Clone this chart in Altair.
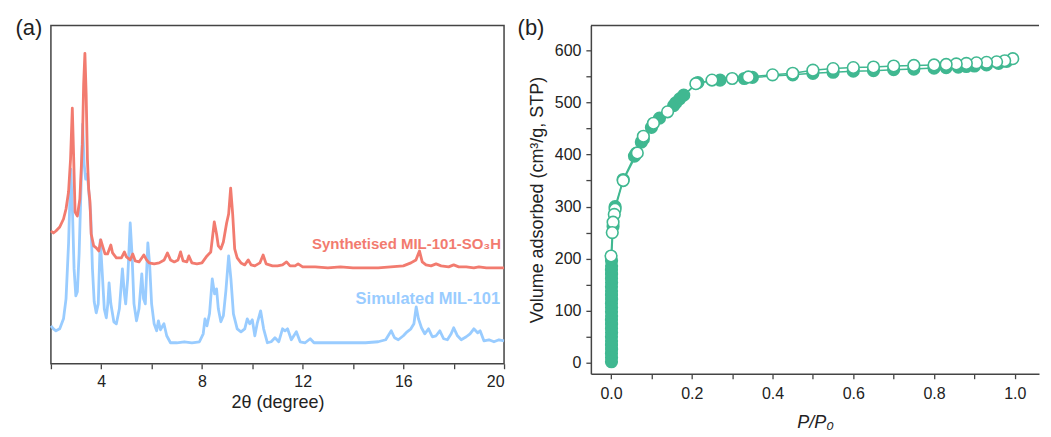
import altair as alt
import pandas as pd

# ---------------- Panel (a): XRD patterns ----------------
syn_2theta = [2.0, 2.1, 2.2, 2.35, 2.5, 2.6, 2.7, 2.78, 2.85, 2.9, 2.96, 3.05, 3.15, 3.25, 3.3, 3.35, 3.4, 3.45, 3.5, 3.55,
              3.6, 3.7, 3.8, 3.9, 3.98, 4.05, 4.15, 4.25, 4.38, 4.45, 4.6, 4.8, 4.92, 5.0, 5.15, 5.25, 5.35, 5.5, 5.69, 5.8,
              5.9, 6.1, 6.3, 6.5, 6.63, 6.75, 6.9, 7.05, 7.15, 7.25, 7.4, 7.48, 7.6, 7.8, 8.0, 8.2, 8.35, 8.49, 8.58, 8.65,
              8.75, 8.85, 8.98, 9.06, 9.14, 9.22, 9.3, 9.4, 9.55, 9.7, 9.84, 9.95, 10.1, 10.3, 10.43, 10.55, 10.8, 11.0, 11.2, 11.36,
              11.5, 11.7, 11.82, 12.0, 12.5, 13.0, 13.5, 14.0, 14.5, 15.0, 15.5, 16.0, 16.3, 16.5, 16.64, 16.75, 16.9, 17.1, 17.3, 17.5,
              17.8, 18.0, 18.2, 18.5, 18.8, 19.0, 19.3, 19.6, 20.0]
syn_intensity = [133, 131, 133, 137, 145, 155, 172, 205, 256, 210, 152, 148, 165, 220, 280, 311, 270, 205, 175, 163,
                 130, 118, 116, 113, 124, 118, 110, 110, 119, 111, 106, 106, 112, 107, 104, 110, 103, 102, 109, 104,
                 101, 100, 101, 104, 111, 104, 102, 104, 112, 103, 102, 108, 101, 100, 101, 108, 112, 142, 130, 118,
                 115, 122, 141, 150, 176, 150, 115, 106, 101, 99, 104, 99, 98, 101, 109, 100, 98, 98, 99, 102,
                 98, 98, 100, 97, 97, 96, 97, 96, 96, 96, 97, 98, 101, 104, 113, 102, 99, 98, 100, 98,
                 97, 99, 97, 97, 96, 97, 96, 96, 96]

sim_2theta = [2.0, 2.1, 2.2, 2.35, 2.5, 2.6, 2.7, 2.79, 2.86, 2.92, 2.99, 3.05, 3.12, 3.2, 3.26, 3.32, 3.38, 3.45, 3.52, 3.58,
              3.65, 3.72, 3.8, 3.88, 3.96, 4.03, 4.12, 4.2, 4.26, 4.31, 4.38, 4.5, 4.6, 4.72, 4.84, 4.92, 4.97, 5.05, 5.15, 5.22,
              5.3, 5.4, 5.5, 5.61, 5.68, 5.75, 5.85, 5.92, 6.0, 6.1, 6.2, 6.27, 6.35, 6.49, 6.6, 6.75, 7.0, 7.3, 7.6, 7.9,
              8.05, 8.12, 8.2, 8.3, 8.41, 8.5, 8.58, 8.65, 8.75, 8.85, 8.95, 9.06, 9.15, 9.25, 9.4, 9.55, 9.7, 9.8, 9.9, 10.0,
              10.1, 10.2, 10.33, 10.45, 10.6, 10.75, 10.9, 11.05, 11.2, 11.3, 11.4, 11.55, 11.75, 11.9, 12.1, 12.3, 12.45, 13.0, 13.5, 14.0,
              14.5, 15.0, 15.3, 15.52, 15.65, 15.8, 16.0, 16.15, 16.3, 16.42, 16.51, 16.6, 16.72, 16.85, 17.0, 17.15, 17.3, 17.45, 17.6, 17.75,
              17.9, 18.0, 18.15, 18.3, 18.5, 18.65, 18.8, 18.95, 19.05, 19.2, 19.4, 19.6, 19.8, 20.0]
sim_intensity = [38, 35, 33, 35, 45, 65, 120, 195, 150, 95, 68, 72, 110, 180, 240, 200, 185, 190, 168, 150,
                 95, 62, 51, 60, 124, 95, 55, 46, 60, 81, 60, 42, 40, 55, 95, 70, 60, 85, 141, 110,
                 60, 43, 55, 90, 65, 60, 121, 100, 60, 40, 33, 43, 34, 40, 28, 21, 21, 22, 21, 22,
                 30, 45, 38, 50, 85, 70, 75, 55, 42, 48, 73, 108, 85, 50, 35, 32, 35, 45, 40, 44,
                 28, 41, 53, 35, 21, 22, 26, 22, 35, 33, 35, 24, 32, 22, 21, 25, 21, 21, 21, 21,
                 21, 22, 24, 33, 26, 24, 28, 32, 35, 40, 57, 45, 36, 30, 35, 27, 28, 33, 25, 24,
                 30, 36, 28, 24, 27, 30, 35, 31, 33, 23, 24, 22, 24, 23]

label_syn = "Synthetised MIL-101-SO₃H"
label_sim = "Simulated MIL-101"
xrd_ticks = [2, 4, 6, 8, 10, 12, 14, 16, 18, 20]

# ---------------- Panel (b): N2 isotherm ----------------
ads_p = [0.0010, 0.0012, 0.0010, 0.0013, 0.0011, 0.0012, 0.0010, 0.0013, 0.0011, 0.0012, 0.0010, 0.0013, 0.0011, 0.0012,
         0.0010, 0.0013, 0.0011, 0.0012, 0.0010, 0.0013, 0.0011, 0.0012, 0.0010, 0.0013, 0.0012,
         0.005, 0.010, 0.030, 0.058, 0.062, 0.075, 0.080, 0.100, 0.120, 0.155, 0.160, 0.170, 0.180, 0.215,
         0.270, 0.330, 0.350, 0.450, 0.500, 0.550, 0.600, 0.650, 0.700, 0.750, 0.800, 0.830, 0.860, 0.880,
         0.900, 0.930, 0.960, 0.980]
ads_v = [2, 10, 18, 26, 34, 42, 50, 58, 66, 74, 82, 90, 98, 106,
         114, 122, 130, 138, 146, 154, 162, 170, 178, 186, 196,
         262, 300, 352, 397, 402, 424, 430, 452, 470, 494, 499, 507, 514, 538,
         543, 546, 548, 553, 556, 558, 560, 561, 563, 564, 566, 567, 568, 569,
         570, 572, 575, 579]
des_p = [0.995, 0.975, 0.955, 0.930, 0.905, 0.880, 0.855, 0.830, 0.800, 0.750, 0.700, 0.650, 0.600, 0.550,
         0.500, 0.450, 0.400, 0.340, 0.300, 0.250, 0.210, 0.140, 0.105, 0.080, 0.065, 0.030, 0.010,
         0.008, 0.005, 0.003, 0.000]
des_v = [584, 580, 578, 577, 576, 575, 574, 573, 572, 571, 570, 568, 567, 565,
         562, 556, 553, 549, 546, 543, 536, 482, 460, 435, 403, 350, 295,
         285, 270, 250, 205]

FONT = "Liberation Sans"
RED = "#F27B6F"
BLUE = "#99CCFF"
GREEN = "#40B891"
AX = "#444444"
TXT = "#222222"

# ---------- panel (a) ----------
df_syn = pd.DataFrame({"t": syn_2theta, "i": syn_intensity})
df_sim = pd.DataFrame({"t": sim_2theta, "i": sim_intensity})

xa = alt.X("t:Q", scale=alt.Scale(domain=[2, 20], nice=False, zero=False),
           axis=alt.Axis(values=xrd_ticks, labelExpr="datum.value % 4 == 0 ? datum.label : ''",
                         title="2θ (degree)", domain=False, tickSize=5, tickColor=AX, tickWidth=1.3,
                         labelFontSize=16, labelPadding=5, titleFontSize=18, titlePadding=4,
                         titleFontWeight="normal", grid=False))
ya = alt.Y("i:Q", scale=alt.Scale(domain=[0, 339], nice=False, zero=True), axis=None)

line_syn = alt.Chart(df_syn).mark_line(color=RED, strokeWidth=2.8, strokeJoin="round").encode(x=xa, y=ya)
line_sim = alt.Chart(df_sim).mark_line(color=BLUE, strokeWidth=2.8, strokeJoin="round").encode(x=xa, y=ya)

txt_syn = alt.Chart(pd.DataFrame({"lab": [label_syn]})).mark_text(
    align="right", baseline="alphabetic", fontSize=15, fontWeight="bold", font=FONT, color=RED
).encode(text="lab:N", x=alt.value(451), y=alt.value(224))
txt_sim = alt.Chart(pd.DataFrame({"lab": [label_sim]})).mark_text(
    align="right", baseline="alphabetic", fontSize=16.5, fontWeight="bold", font=FONT, color=BLUE
).encode(text="lab:N", x=alt.value(450), y=alt.value(279))
tag_a = alt.Chart(pd.DataFrame({"lab": ["(a)"]})).mark_text(
    align="center", baseline="middle", fontSize=22, font=FONT, color=TXT
).encode(text="lab:N", x=alt.value(-22), y=alt.value(3))

panel_a = alt.layer(line_sim, line_syn, txt_syn, txt_sim, tag_a).properties(width=454, height=339)

# ---------- panel (b) ----------
df_ads = pd.DataFrame({"p": ads_p, "v": ads_v, "k": list(range(len(ads_p)))})
df_des = pd.DataFrame({"p": des_p, "v": des_v, "k": list(range(len(des_p)))})

xb = alt.X("p:Q", scale=alt.Scale(domain=[-0.05, 1.06], nice=False, zero=False),
           axis=alt.Axis(values=[0, 0.1, 0.2, 0.3, 0.4, 0.5, 0.6, 0.7, 0.8, 0.9, 1.0],
                         labelExpr="round(datum.value * 10) % 2 == 0 ? format(datum.value, '.1f') : ''",
                         title="P/P₀", titleFontStyle="italic", domain=True, domainColor=AX, domainWidth=1.5,
                         tickSize=5, tickColor=AX, tickWidth=1.3, labelFontSize=16, labelPadding=7,
                         titleFontSize=18, titlePadding=12, titleFontWeight="normal", grid=False))
yb = alt.Y("v:Q", scale=alt.Scale(domain=[-21, 648], nice=False, zero=False),
           axis=alt.Axis(values=list(range(0, 650, 50)),
                         labelExpr="datum.value % 100 == 0 ? datum.label : ''",
                         title="Volume adsorbed (cm³/g, STP)", domain=True, domainColor=AX, domainWidth=1.5,
                         tickSize=5, tickColor=AX, tickWidth=1.3, labelFontSize=16, labelPadding=5,
                         titleFontSize=18, titlePadding=8, titleFontWeight="normal", grid=False))

l_ads = alt.Chart(df_ads).mark_line(color=GREEN, strokeWidth=1.5).encode(x=xb, y=yb, order="k:Q")
l_des = alt.Chart(df_des).mark_line(color=GREEN, strokeWidth=1.5).encode(x=xb, y=yb, order="k:Q")
p_ads = alt.Chart(df_ads).mark_circle(size=135, color=GREEN, opacity=1, stroke=GREEN, strokeWidth=1.6).encode(x=xb, y=yb)
p_des = alt.Chart(df_des).mark_circle(size=135, fill="white", opacity=1, stroke=GREEN, strokeWidth=1.6).encode(x=xb, y=yb)
top_b = alt.Chart(pd.DataFrame({"z": [0]})).mark_rule(color=AX, strokeWidth=1.5).encode(
    x=alt.value(0), x2=alt.value(449), y=alt.value(0))
tag_b = alt.Chart(pd.DataFrame({"lab": ["(b)"]})).mark_text(
    align="center", baseline="middle", fontSize=22, font=FONT, color=TXT
).encode(text="lab:N", x=alt.value(-60), y=alt.value(3))

panel_b = alt.layer(l_ads, l_des, p_ads, p_des, top_b, tag_b).properties(
    width=449, height=349, view=alt.ViewBackground(stroke="transparent"))

chart = alt.hconcat(panel_a, panel_b, spacing=9).properties(
    padding={"left": 6, "top": 8, "right": 2, "bottom": 2}
).configure_view(stroke=AX, strokeWidth=1.5).configure_axis(
    labelFont=FONT, titleFont=FONT, labelColor=TXT, titleColor=TXT
).configure_text(font=FONT)

chart.save("out.html", embed_options={"renderer": "svg", "actions": False})
